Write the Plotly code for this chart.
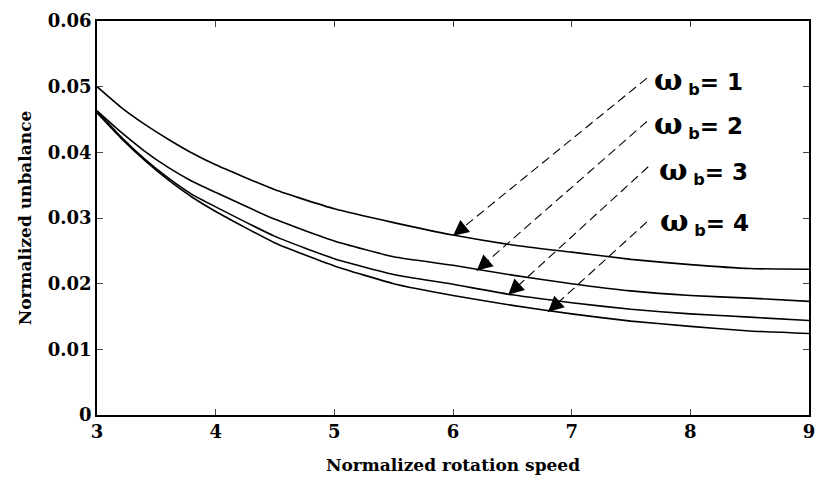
import plotly.graph_objects as go

# ---- data ----
speed = [3.0, 3.2, 3.4, 3.6, 3.8, 4.0, 4.5, 5.0, 5.5, 6.0, 6.5, 7.0, 7.5, 8.0, 8.5, 9.0]
unb_wb1 = [0.0500, 0.0469, 0.0443, 0.0420, 0.0399, 0.0381, 0.0343, 0.0314, 0.0293, 0.0274, 0.0259, 0.0248, 0.0237, 0.0229, 0.0223, 0.0222]
unb_wb2 = [0.0463, 0.0431, 0.0402, 0.0377, 0.0356, 0.0339, 0.0298, 0.0265, 0.0241, 0.0228, 0.0213, 0.0200, 0.0189, 0.0182, 0.0178, 0.0173]
unb_wb3 = [0.0463, 0.0424, 0.0390, 0.0361, 0.0336, 0.0317, 0.0272, 0.0238, 0.0214, 0.0199, 0.0183, 0.0171, 0.0161, 0.0154, 0.0149, 0.0144]
unb_wb4 = [0.0460, 0.0422, 0.0388, 0.0358, 0.0332, 0.0310, 0.0262, 0.0227, 0.0200, 0.0182, 0.0167, 0.0154, 0.0143, 0.0135, 0.0128, 0.0124]
series = [unb_wb1, unb_wb2, unb_wb3, unb_wb4]
wb_values = ["1", "2", "3", "4"]

x_ticks = [3, 4, 5, 6, 7, 8, 9]
y_ticks = [0, 0.01, 0.02, 0.03, 0.04, 0.05, 0.06]
y_ticktext = ["0", "0.01", "0.02", "0.03", "0.04", "0.05", "0.06"]

# label callouts: (label x, label y, dashed start x, start y, tip x, tip y, tail dx px, tail dy px)
callouts = [
    (7.678, 0.0509, 7.634, 0.0513, 6.000, 0.0273, 12.5, -10.0),
    (7.678, 0.0443, 7.634, 0.0447, 6.200, 0.0220, 12.1, -10.5),
    (7.720, 0.0373, 7.645, 0.0378, 6.465, 0.0183, 11.8, -10.8),
    (7.730, 0.0294, 7.634, 0.0294, 6.800, 0.0157, 11.9, -10.7),
]

SERIF = "DejaVu Serif, serif"
SANS = "DejaVu Sans, sans-serif"

fig = go.Figure()
for ys in series:
    fig.add_trace(go.Scatter(x=speed, y=ys, mode="lines",
                             line=dict(color="black", width=1.6, shape="spline", smoothing=0.5),
                             showlegend=False, hoverinfo="skip"))

annotations = []
for (lx, ly, sx, sy, tx, ty, dx, dy), v in zip(callouts, wb_values):
    fig.add_trace(go.Scatter(x=[sx, tx], y=[sy, ty], mode="lines",
                             line=dict(color="black", width=1.1, dash="9px,5px"),
                             showlegend=False, hoverinfo="skip"))
    annotations.append(dict(x=tx, y=ty, xref="x", yref="y", ax=dx, ay=dy,
                            text="", showarrow=True, arrowhead=2, arrowsize=2.6,
                            arrowwidth=1.2, arrowcolor="black", standoff=0))
    lab = ('<b><span style="font-family:DejaVu Serif;font-size:30px">ω</span>'
           '<sub> b</sub>= ' + v + '</b>')
    annotations.append(dict(x=lx, y=ly, xref="x", yref="y", text=lab, showarrow=False,
                            xanchor="left", yanchor="middle",
                            font=dict(family=SANS, size=23, color="black")))

fig.update_layout(
    width=821, height=482,
    margin=dict(l=97, r=6, t=21, b=67),
    paper_bgcolor="white", plot_bgcolor="white",
    font=dict(family=SERIF, size=18, color="black"),
    annotations=annotations,
    xaxis=dict(range=[3, 9], tickvals=x_ticks, ticktext=[f"<b>{t}</b>" for t in x_ticks],
               ticks="inside", ticklen=6, tickwidth=1.2,
               showline=True, linecolor="black", linewidth=1.5, mirror="ticks",
               showgrid=False, zeroline=False,
               tickfont=dict(family=SERIF, size=18, color="black"),
               title=dict(text="<b>Normalized rotation speed</b>", standoff=18,
                          font=dict(family=SERIF, size=17, color="black"))),
    yaxis=dict(range=[0, 0.06], tickvals=y_ticks,
               ticktext=[f"<b>{t}</b>" for t in y_ticktext], ticks="inside",
               ticklen=6, tickwidth=1.2,
               showline=True, linecolor="black", linewidth=1.5, mirror="ticks",
               showgrid=False, zeroline=False,
               tickfont=dict(family=SERIF, size=18, color="black"),
               title=dict(text="<b>Normalized unbalance</b>", standoff=12,
                          font=dict(family=SERIF, size=17, color="black"))),
)

fig.write_html("out.html")
